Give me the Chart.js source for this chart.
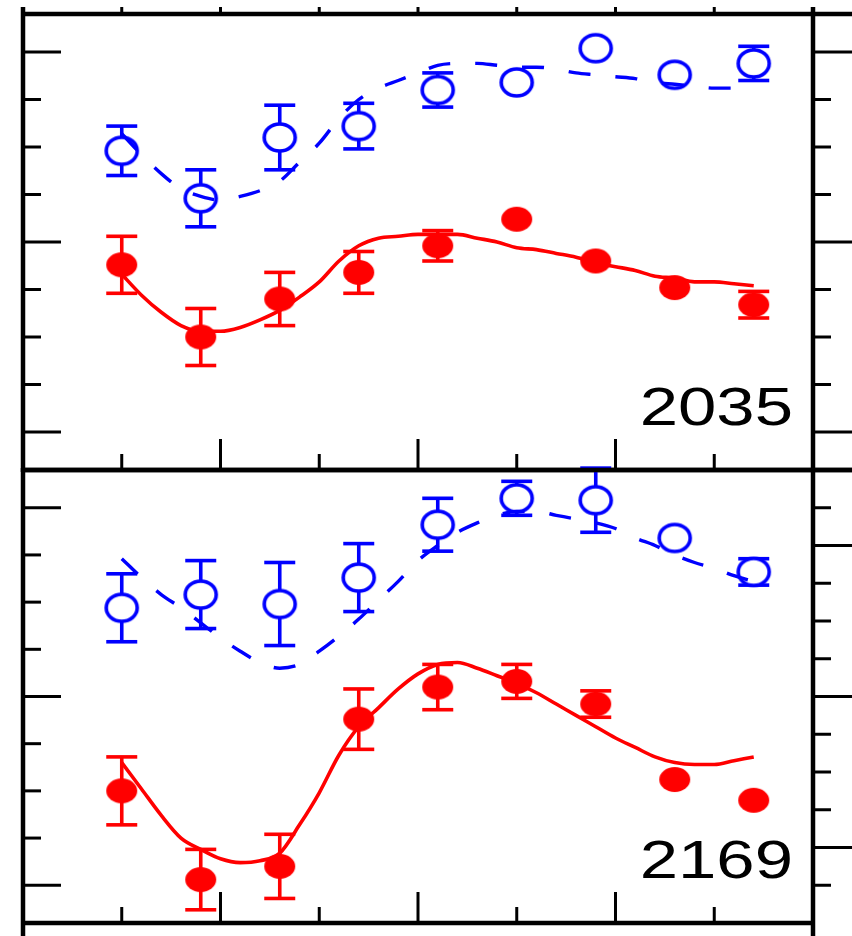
<!DOCTYPE html>
<html>
<head>
<meta charset="utf-8">
<title>2035 / 2169</title>
<script src="https://cdn.jsdelivr.net/npm/chart.js@4/dist/chart.umd.min.js"></script>
<style>
  body { margin: 0; background: #fff; }
  #wrap { position: relative; width: 852px; height: 936px; overflow: hidden; }
  canvas { position: absolute; left: 0; }
</style>
</head>
<body>
<div id="wrap">
  <canvas id="panelTop" width="852" height="474" style="top:0"></canvas>
  <canvas id="panelBottom" width="852" height="470" style="top:466px"></canvas>
</div>
<script>
'use strict';

// measured points sit at x = 0..8, model curves are sampled every quarter step
const pointX = [0, 1, 2, 3, 4, 5, 6, 7, 8];
const curveX = [0, 0.25, 0.5, 0.75, 1, 1.25, 1.5, 1.75, 2, 2.25, 2.5, 2.75, 3, 3.25, 3.5, 3.75,
  4, 4.25, 4.5, 4.75, 5, 5.25, 5.5, 5.75, 6, 6.25, 6.5, 6.75, 7, 7.25, 7.5, 7.75, 8];

// tick positions
const xTicks = [-1.25, 0, 1.25, 2.5, 3.75, 5, 6.25, 7.5, 8.75];
const xMajor = [1.25, 3.75, 6.25];
const yTicks = [0, 0.25, 0.5, 0.75, 1, 1.25, 1.5, 1.75, 2];
const yRightTicks = [-0.25, 0, 0.25, 0.5, 0.75, 1, 1.25, 1.5, 1.75, 2, 2.25];

// panel 2035
const open2035 = [1.48, 1.23, 1.55, 1.61, 1.80, 1.84, 2.02, 1.88, 1.94];
const open2035Err = [0.13, 0.15, 0.17, 0.12, 0.09, 0, 0, 0, 0.09];
const filled2035 = [0.88, 0.50, 0.70, 0.84, 0.98, 1.12, 0.90, 0.76, 0.67];
const filled2035Err = [0.15, 0.15, 0.14, 0.11, 0.08, 0, 0, 0, 0.07];
const dashed2035 = [1.57, 1.46, 1.36, 1.28, 1.24, 1.22, 1.24, 1.27, 1.32, 1.42, 1.52, 1.65, 1.75, 1.81, 1.85, 1.89,
  1.93, 1.94, 1.94, 1.93, 1.92, 1.92, 1.91, 1.89, 1.88, 1.87, 1.86, 1.84, 1.83, 1.82, 1.81, 1.81, 1.79];
const solid2035 = [0.83, 0.72, 0.63, 0.56, 0.53, 0.53, 0.55, 0.59, 0.64, 0.71, 0.79, 0.90, 0.98, 1.02, 1.03, 1.04,
  1.04, 1.04, 1.02, 1.00, 0.97, 0.96, 0.94, 0.92, 0.89, 0.87, 0.85, 0.82, 0.81, 0.79, 0.79, 0.78, 0.77];

// panel 2169
const open2169 = [1.47, 1.54, 1.49, 1.63, 1.91, 2.05, 2.04, 1.84, 1.66];
const open2169Err = [0.18, 0.18, 0.22, 0.18, 0.14, 0.09, 0.17, 0, 0.07];
const filled2169 = [0.50, 0.03, 0.10, 0.88, 1.05, 1.08, 0.96, 0.56, 0.45];
const filled2169Err = [0.18, 0.16, 0.17, 0.16, 0.12, 0.09, 0.07, 0, 0];
const dashed2169 = [1.73, 1.63, 1.54, 1.47, 1.39, 1.31, 1.24, 1.18, 1.15, 1.17, 1.24, 1.32, 1.41, 1.51, 1.61, 1.72,
  1.80, 1.87, 1.92, 1.96, 1.98, 1.98, 1.96, 1.94, 1.92, 1.89, 1.84, 1.80, 1.75, 1.71, 1.68, 1.64, 1.61];
const solid2169 = [0.65, 0.51, 0.37, 0.25, 0.19, 0.14, 0.12, 0.13, 0.17, 0.32, 0.49, 0.69, 0.84, 0.94, 1.04, 1.12,
  1.17, 1.18, 1.15, 1.11, 1.07, 1.02, 0.96, 0.90, 0.84, 0.78, 0.73, 0.68, 0.65, 0.64, 0.64, 0.66, 0.68];

const BLUE = '#0000ff';
const RED = '#ff0000';

// markers are slightly wider than tall, so they are drawn as little images
function ellipseMarker(rx, ry, fill, stroke, lw) {
  const c = document.createElement('canvas');
  c.width = Math.ceil(2 * rx + lw + 2);
  c.height = Math.ceil(2 * ry + lw + 2);
  const g = c.getContext('2d');
  g.beginPath();
  g.ellipse(c.width / 2, c.height / 2, rx, ry, 0, 0, Math.PI * 2);
  g.fillStyle = fill;
  g.fill();
  if (stroke) {
    g.lineWidth = lw;
    g.strokeStyle = stroke;
    g.stroke();
  }
  return c;
}
const openMarker = ellipseMarker(15.5, 13.5, '#fff', BLUE, 3.6);
const filledMarker = ellipseMarker(15.5, 12.5, RED, null, 0);

function line(ctx, x1, y1, x2, y2) {
  ctx.beginPath();
  ctx.moveTo(x1, y1);
  ctx.lineTo(x2, y2);
  ctx.stroke();
}

const errorBars = {
  id: 'errorBars',
  beforeDatasetsDraw(chart) {
    const ctx = chart.ctx;
    const x = chart.scales.x, y = chart.scales.y;
    ctx.save();
    ctx.lineWidth = 3.6;
    chart.data.datasets.forEach(ds => {
      if (!ds.errors) return;
      ctx.strokeStyle = ds.errorColor;
      ds.errors.forEach((e, i) => {
        if (!e) return;
        const px = x.getPixelForValue(pointX[i]);
        const hi = y.getPixelForValue(ds.data[i].y + e);
        const lo = y.getPixelForValue(ds.data[i].y - e);
        line(ctx, px, hi, px, lo);
        line(ctx, px - 15.5, hi, px + 15.5, hi);
        line(ctx, px - 15.5, lo, px + 15.5, lo);
      });
    });
    ctx.restore();
  }
};

const frame = {
  id: 'frame',
  afterDraw(chart, args, opts) {
    const ctx = chart.ctx;
    const { left, right, top, bottom } = chart.chartArea;
    const x = chart.scales.x, y = chart.scales.y;
    const yr = chart.scales[opts.rightAxis];
    const rTicks = opts.rightAxis === 'y' ? yTicks : yRightTicks;
    ctx.save();
    ctx.strokeStyle = '#000';
    ctx.lineCap = 'butt';

    ctx.lineWidth = 3;
    xTicks.forEach(v => {
      const px = x.getPixelForValue(v);
      if (px < left + 2 || px > right - 2) return;
      line(ctx, px, bottom, px, bottom - (xMajor.includes(v) ? 31 : 16));
      if (opts.topTicks) line(ctx, px, top, px, top - 7);
    });
    yTicks.forEach(v => {
      const py = y.getPixelForValue(v);
      line(ctx, left, py, left + (v % 1 === 0 ? 38 : 18), py);
    });
    rTicks.forEach(v => {
      const py = yr.getPixelForValue(v);
      line(ctx, right, py, v % 1 === 0 ? chart.width : right + 18, py);
    });

    ctx.lineWidth = 4.5;
    line(ctx, left - 2, top, opts.openTop ? chart.width : right + 2, top);
    line(ctx, left - 2, bottom, opts.openBottom ? chart.width : right + 2, bottom);
    const vTop = opts.topTicks ? top - 7 : top - 2;
    const vBottom = opts.openBottom ? bottom + 2 : chart.height;
    line(ctx, left, vTop, left, vBottom);
    line(ctx, right, vTop, right, vBottom);

    // panel tag, set a little wide like the rest of the figure
    ctx.fillStyle = '#000';
    ctx.font = '53px "Liberation Sans", Arial, sans-serif';
    ctx.textAlign = 'right';
    ctx.textBaseline = 'alphabetic';
    ctx.translate(right - 20, bottom - 45);
    ctx.scale(1.3, 1);
    ctx.fillText(opts.label, 0, 0);
    ctx.restore();
  }
};

function makePanel(id, padding, frameOpts, series) {
  const pts = vals => vals.map((v, i) => ({ x: pointX[i], y: v }));
  const curve = vals => vals.map((v, i) => ({ x: curveX[i], y: v }));
  return new Chart(document.getElementById(id), {
    type: 'scatter',
    data: {
      datasets: [
        {
          data: curve(series.dashed), showLine: true, borderColor: BLUE, borderWidth: 3.4,
          borderDash: [22, 25], pointRadius: 0, cubicInterpolationMode: 'monotone', order: 0
        },
        {
          data: curve(series.solid), showLine: true, borderColor: RED, borderWidth: 3.6,
          pointRadius: 0, cubicInterpolationMode: 'monotone', order: 0
        },
        {
          data: pts(series.open), errors: series.openErr, errorColor: BLUE,
          pointStyle: openMarker, pointRadius: 15, order: 1
        },
        {
          data: pts(series.filled), errors: series.filledErr, errorColor: RED,
          pointStyle: filledMarker, pointRadius: 15, order: 1
        }
      ]
    },
    options: {
      responsive: false,
      devicePixelRatio: 1,
      animation: false,
      layout: { padding, autoPadding: false },
      scales: {
        x: { type: 'linear', min: -1.25, max: 8.75, display: false },
        y: { min: -0.2, max: 2.2, display: false },
        yr: { position: 'right', min: -0.5, max: 2.5, display: false }
      },
      plugins: {
        legend: { display: false },
        tooltip: { enabled: false },
        frame: frameOpts
      }
    },
    plugins: [errorBars, frame]
  });
}

makePanel('panelTop', { left: 23, right: 39, top: 14, bottom: 4 },
  { label: '2035', rightAxis: 'y', topTicks: true, openTop: true, openBottom: true },
  { open: open2035, openErr: open2035Err, filled: filled2035, filledErr: filled2035Err,
    dashed: dashed2035, solid: solid2035 });

makePanel('panelBottom', { left: 23, right: 39, top: 4, bottom: 13 },
  { label: '2169', rightAxis: 'yr', topTicks: false, openTop: true, openBottom: false },
  { open: open2169, openErr: open2169Err, filled: filled2169, filledErr: filled2169Err,
    dashed: dashed2169, solid: solid2169 });
</script>
</body>
</html>
